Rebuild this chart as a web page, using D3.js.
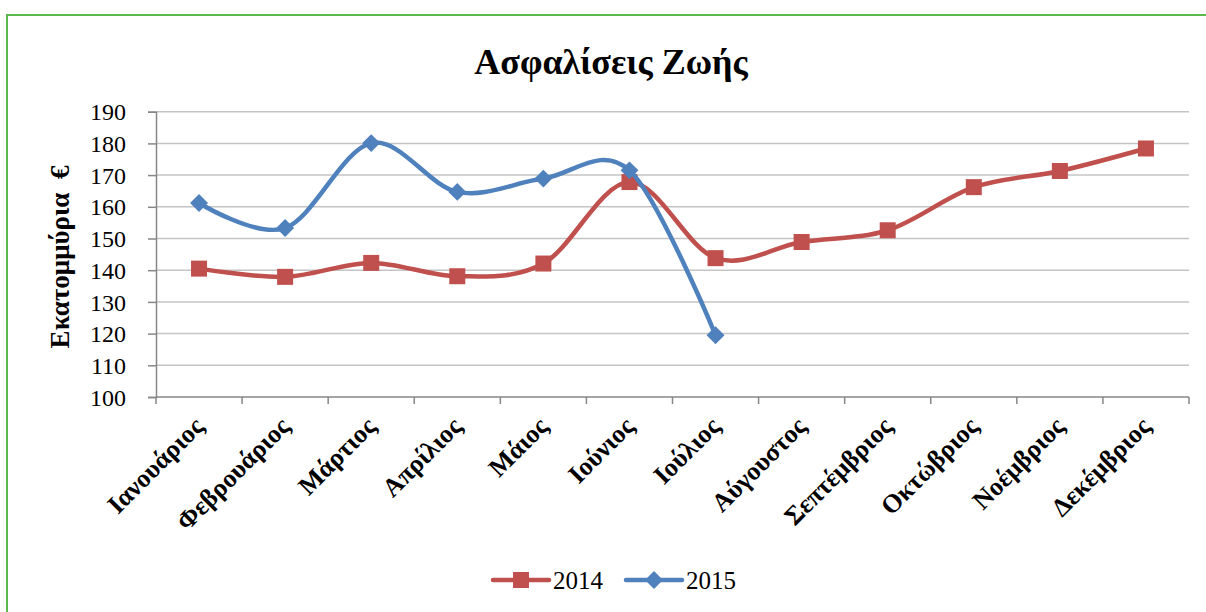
<!DOCTYPE html>
<html>
<head>
<meta charset="utf-8">
<script src="https://cdn.jsdelivr.net/npm/d3@7"></script>
<style>
  body { margin: 0; background: #fff; }
  text { font-family: "Liberation Serif", "Times New Roman", serif; fill: #000; }
</style>
</head>
<body>
<svg width="1206" height="612"></svg>
<script>
let months = ["Ιανουάριος", "Φεβρουάριος", "Μάρτιος", "Απρίλιος", "Μάιος", "Ιούνιος",
    "Ιούλιος", "Αύγουστος", "Σεπτέμβριος", "Οκτώβριος", "Νοέμβριος", "Δεκέμβριος"];
let values2014 = [140.5, 137.9, 142.3, 138.1, 142.1, 167.8, 143.8, 148.9, 152.6, 166.2, 171.3, 178.4];
let values2015 = [161.2, 153.3, 180.1, 164.7, 168.9, 171.5, 119.5];
let yTicks = [100, 110, 120, 130, 140, 150, 160, 170, 180, 190];

let svg = d3.select("svg");

// green frame (Excel chart area border)
svg.append("rect")
    .attr("x", 7).attr("y", 15)
    .attr("width", 1240).attr("height", 640)
    .attr("fill", "none")
    .attr("stroke", "#5cb84c")
    .attr("stroke-width", 2);

let plotLeft = 156, plotRight = 1189, plotTop = 111.7, plotBottom = 397;

let xScale = d3.scaleBand().domain(months).range([plotLeft, plotRight]),
    yScale = d3.scaleLinear().domain([100, 190]).range([plotBottom, plotTop]);

let xc = function (m) { return xScale(m) + xScale.bandwidth() / 2; };

// gridlines
svg.append("g")
    .selectAll("line")
    .data(yTicks.slice(1))
    .enter().append("line")
    .attr("x1", plotLeft).attr("x2", plotRight)
    .attr("y1", function (d) { return yScale(d); })
    .attr("y2", function (d) { return yScale(d); })
    .attr("stroke", "#c4c4c4")
    .attr("stroke-width", 1.5);

// y axis
let yAxis = svg.append("g")
    .attr("transform", "translate(" + plotLeft + ",0)")
    .call(d3.axisLeft(yScale).tickValues(yTicks).tickSize(8).tickPadding(22));
yAxis.select(".domain").attr("stroke", "#878787").attr("stroke-width", 1.5);
yAxis.selectAll(".tick line").attr("stroke", "#878787").attr("stroke-width", 1.5);
yAxis.selectAll("text")
    .attr("font-size", 24)
    .attr("font-family", "Liberation Serif, serif")
    .attr("fill", "#000")
    .attr("dy", "0.34em");

// x axis: ticks on band edges
let edges = months.map(function (m) { return xScale(m); }).concat([plotRight]);
let xAxis = svg.append("g");
xAxis.append("line")
    .attr("x1", plotLeft).attr("x2", plotRight)
    .attr("y1", plotBottom).attr("y2", plotBottom)
    .attr("stroke", "#878787").attr("stroke-width", 1.5);
xAxis.selectAll(".tk")
    .data(edges)
    .enter().append("line")
    .attr("class", "tk")
    .attr("x1", function (d) { return d; }).attr("x2", function (d) { return d; })
    .attr("y1", plotBottom).attr("y2", plotBottom + 7)
    .attr("stroke", "#878787").attr("stroke-width", 1.5);
xAxis.selectAll(".lbl")
    .data(months)
    .enter().append("text")
    .attr("class", "lbl")
    .attr("transform", function (d) { return "translate(" + (xc(d) + 6) + "," + 428 + ") rotate(-45)"; })
    .attr("text-anchor", "end")
    .attr("font-size", 26)
    .attr("font-weight", "bold")
    .text(function (d) { return d; });

// lines
let line = d3.line()
    .x(function (d) { return xc(d.m); })
    .y(function (d) { return yScale(d.v); })
    .curve(d3.curveCardinal.tension(0));

let s2014 = values2014.map(function (v, i) { return { m: months[i], v: v }; });
let s2015 = values2015.map(function (v, i) { return { m: months[i], v: v }; });

let red = "#c0504d", blue = "#4f81bd";

svg.append("path").datum(s2014)
    .attr("d", line).attr("fill", "none")
    .attr("stroke", red).attr("stroke-width", 4.5).attr("stroke-linejoin", "round");
svg.selectAll(".sq")
    .data(s2014)
    .enter().append("rect")
    .attr("class", "sq")
    .attr("x", function (d) { return xc(d.m) - 8; })
    .attr("y", function (d) { return yScale(d.v) - 8; })
    .attr("width", 16).attr("height", 16)
    .attr("fill", red);

svg.append("path").datum(s2015)
    .attr("d", line).attr("fill", "none")
    .attr("stroke", blue).attr("stroke-width", 4.5).attr("stroke-linejoin", "round");
svg.selectAll(".dm")
    .data(s2015)
    .enter().append("path")
    .attr("class", "dm")
    .attr("transform", function (d) { return "translate(" + xc(d.m) + "," + yScale(d.v) + ") rotate(45)"; })
    .attr("d", d3.symbol().type(d3.symbolSquare).size(160))
    .attr("fill", blue);

// title
svg.append("text")
    .attr("x", 611).attr("y", 74)
    .attr("text-anchor", "middle")
    .attr("font-size", 36)
    .attr("font-weight", "bold")
    .text("Ασφαλίσεις Ζωής");

// y title
svg.append("text")
    .attr("transform", "translate(69,257) rotate(-90)")
    .attr("text-anchor", "middle")
    .attr("font-size", 27)
    .attr("font-weight", "bold")
    .attr("xml:space", "preserve")
    .text("Εκατομμύρια  €");

// legend
let legend = [
    { name: "2014", color: red, x: 493, shape: "square" },
    { name: "2015", color: blue, x: 626, shape: "diamond" }
];
let lg = svg.selectAll(".lg").data(legend).enter().append("g")
    .attr("transform", function (d) { return "translate(" + d.x + ",580)"; });
lg.append("line")
    .attr("x1", 0).attr("x2", 56).attr("y1", 0).attr("y2", 0)
    .attr("stroke", function (d) { return d.color; })
    .attr("stroke-width", 4.5).attr("stroke-linecap", "round");
lg.append("path")
    .attr("transform", function (d) { return "translate(28,0)" + (d.shape === "diamond" ? " rotate(45)" : ""); })
    .attr("d", function (d) { return d3.symbol().type(d3.symbolSquare).size(d.shape === "diamond" ? 160 : 256)(); })
    .attr("fill", function (d) { return d.color; });
lg.append("text")
    .attr("x", 60).attr("y", 9)
    .attr("font-size", 25)
    .text(function (d) { return d.name; });
</script>
</body>
</html>
